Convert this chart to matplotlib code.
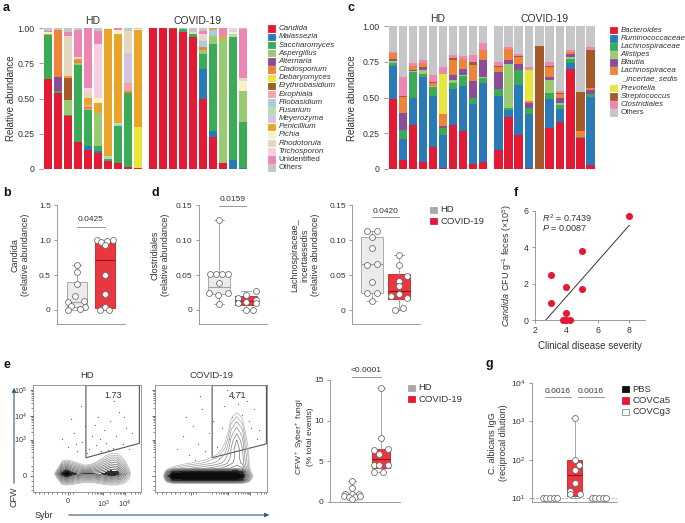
import numpy as np
import matplotlib
matplotlib.use("Agg")
import matplotlib.pyplot as plt
from matplotlib.patches import Rectangle, Polygon, FancyArrowPatch

plt.rcParams['font.family'] = ['Liberation Sans', 'DejaVu Sans']
plt.rcParams['mathtext.fontset'] = 'custom'
plt.rcParams['mathtext.rm'] = 'Liberation Sans'
plt.rcParams['mathtext.it'] = 'Liberation Sans:italic'
plt.rcParams['mathtext.bf'] = 'Liberation Sans:bold'

W, H = 685, 523
TXT = '#333333'
AXC = '#8c8c8c'
RED = '#e41a35'

# ---------------- panel a: fungal composition (rows = taxa, cols = samples)
fungi_names = ['Candida', 'Malassezia', 'Saccharomyces', 'Aspergillus', 'Alternaria',
               'Cladosporium', 'Debaryomyces', 'Erythrobasidium', 'Exophiala',
               'Filobasidium', 'Fusarium', 'Meyerozyma', 'Penicillium', 'Pichia',
               'Rhodotorula', 'Trichosporon', 'Unidentified', 'Others']
fungi_colors = ['#e41a35', '#2a7ab8', '#3cab57', '#9acb73', '#8a4d9a', '#f0833a',
                '#e6e63c', '#a55a2a', '#f1a6a0', '#a9cbe4', '#b7dcb5', '#d4c4df',
                '#e9a52a', '#f4f4c8', '#e5d6be', '#f6cfe0', '#ec86b3', '#c6c6c8']
fungi_hd = [
    [0.64, 0.54, 0.375, 0.195, 0.135, 0.115, 0.06, 0.045, 0.015, 0.005],
    [0, 0, 0, 0, 0.025, 0.01, 0, 0, 0, 0],
    [0.31, 0.015, 0.01, 0.54, 0.26, 0.04, 0.01, 0.26, 0.525, 0],
    [0, 0, 0.105, 0.015, 0.005, 0.235, 0, 0, 0, 0],
    [0, 0.095, 0, 0, 0, 0, 0, 0, 0, 0],
    [0, 0.335, 0, 0.02, 0.015, 0, 0, 0, 0.01, 0],
    [0, 0, 0, 0, 0, 0, 0, 0, 0, 0.29],
    [0, 0, 0.155, 0, 0, 0, 0, 0, 0, 0],
    [0, 0, 0, 0, 0.015, 0, 0, 0, 0.06, 0],
    [0, 0, 0, 0, 0, 0, 0, 0.01, 0, 0],
    [0, 0, 0, 0, 0, 0, 0.02, 0.01, 0, 0],
    [0, 0, 0, 0, 0, 0, 0, 0, 0.21, 0],
    [0.01, 0, 0.015, 0.01, 0.05, 0.07, 0.905, 0.63, 0, 0.69],
    [0.01, 0, 0, 0, 0, 0.035, 0.005, 0.03, 0, 0.005],
    [0.005, 0, 0.285, 0.015, 0.05, 0, 0, 0, 0.16, 0],
    [0, 0, 0, 0, 0.02, 0.38, 0, 0, 0, 0],
    [0.005, 0, 0.03, 0.19, 0.425, 0.095, 0, 0.015, 0, 0],
    [0.02, 0.015, 0.025, 0.015, 0, 0.02, 0, 0, 0.02, 0.01],
]
fungi_covid = [
    [1.0, 1.0, 0.99, 0.97, 0.935, 0.495, 0.225, 0.04, 0, 0],
    [0, 0, 0, 0, 0, 0.215, 0.045, 0.005, 0.065, 0.01],
    [0, 0, 0, 0.02, 0.025, 0.105, 0.615, 0, 0.87, 0.325],
    [0, 0, 0, 0, 0, 0.03, 0.055, 0.875, 0, 0.22],
    [0, 0, 0, 0, 0, 0, 0, 0, 0, 0],
    [0, 0, 0, 0, 0, 0.02, 0, 0, 0, 0],
    [0, 0, 0, 0, 0, 0, 0, 0, 0, 0],
    [0, 0, 0.01, 0, 0, 0, 0, 0, 0, 0],
    [0, 0, 0, 0, 0, 0, 0, 0, 0, 0],
    [0, 0, 0, 0, 0, 0.045, 0.045, 0, 0, 0],
    [0, 0, 0, 0, 0, 0, 0, 0, 0.025, 0],
    [0, 0, 0, 0, 0, 0, 0, 0, 0, 0],
    [0, 0, 0, 0, 0, 0, 0.015, 0.02, 0, 0],
    [0, 0, 0, 0, 0, 0, 0, 0, 0.015, 0.07],
    [0, 0, 0, 0, 0.015, 0.025, 0, 0, 0.01, 0.02],
    [0, 0, 0, 0, 0, 0.02, 0, 0, 0.015, 0],
    [0, 0, 0, 0, 0, 0.025, 0, 0.06, 0, 0.345],
    [0, 0, 0, 0.01, 0.025, 0.02, 0, 0, 0, 0.01],
]

# ---------------- panel c: bacterial composition
bact_names = ['Bacteroides', 'Ruminococcaceae', 'Lachnospiraceae', 'Alistipes', 'Blautia',
              'Lachnospiracea', 'Prevotella', 'Streptococcus', 'Clostridiales', 'Others']
bact_colors = ['#e41a35', '#2a7ab8', '#3cab57', '#9acb73', '#8a4d9a', '#f0833a',
               '#e6e63c', '#a55a2a', '#ec86b3', '#c6c6c8']
bact_hd = [
    [0.49, 0.065, 0.305, 0.05, 0.155, 0.005, 0.305, 0.265, 0.035, 0.05],
    [0.23, 0.145, 0.195, 0.595, 0.355, 0.235, 0.255, 0.315, 0.42, 0.55],
    [0.02, 0.065, 0.175, 0.02, 0.06, 0.045, 0.04, 0.07, 0.04, 0.035],
    [0.015, 0, 0.01, 0.03, 0.01, 0, 0.02, 0.01, 0.005, 0.005],
    [0.015, 0.115, 0.01, 0.02, 0, 0.015, 0.04, 0.04, 0.115, 0.12],
    [0.04, 0.115, 0.025, 0.025, 0.02, 0.085, 0.105, 0.07, 0.115, 0.07],
    [0, 0, 0, 0, 0, 0.28, 0, 0, 0, 0],
    [0, 0.005, 0, 0, 0.005, 0, 0.01, 0, 0.015, 0],
    [0.01, 0.13, 0.02, 0.025, 0.05, 0.045, 0.025, 0.02, 0.05, 0.05],
    [0.18, 0.36, 0.26, 0.235, 0.345, 0.29, 0.2, 0.21, 0.205, 0.12],
]
bact_covid = [
    [0.135, 0.365, 0.24, 0.01, 0, 0.29, 0.33, 0.70, 0.215, 0.03],
    [0.375, 0.05, 0.345, 0.375, 0, 0.2, 0.09, 0.04, 0, 0.475],
    [0.05, 0.01, 0.11, 0.045, 0, 0.04, 0.025, 0.03, 0.01, 0.02],
    [0, 0.31, 0, 0, 0, 0.095, 0.015, 0.01, 0, 0],
    [0.12, 0.025, 0.04, 0.03, 0, 0.015, 0.04, 0.025, 0, 0.025],
    [0.035, 0.08, 0.05, 0.015, 0, 0.07, 0.025, 0.01, 0.04, 0.015],
    [0, 0, 0, 0.22, 0, 0, 0, 0, 0, 0],
    [0.005, 0, 0.005, 0, 0.86, 0.01, 0.005, 0.005, 0.27, 0.265],
    [0.025, 0.01, 0.015, 0.02, 0, 0.025, 0.015, 0.01, 0, 0.02],
    [0.255, 0.15, 0.195, 0.285, 0.14, 0.255, 0.455, 0.17, 0.465, 0.15],
]

# ---------------- panel b / d box plots (stats = whislo, q1, med, q3, whishi)
candida_hd = [0.64, 0.54, 0.375, 0.195, 0.135, 0.115, 0.06, 0.045, 0.015, 0.005]
candida_hd_dx = [0, 0, 0, -0.05, 0.25, -0.3, -0.2, 0.3, 0.1, -0.3]
candida_cov = [1.0, 1.0, 0.99, 0.97, 0.935, 0.495, 0.225, 0.04, 0.0, 0.0]
candida_cov_dx = [-0.3, 0.27, 0.06, -0.14, 0.0, 0.0, 0.0, 0.0, -0.18, 0.12]
candida_hd_box = [0.0, 0.04, 0.12, 0.40, 0.64]
candida_cov_box = [0.0, 0.03, 0.71, 0.97, 1.0]

clos_hd = [0.129, 0.052, 0.052, 0.052, 0.051, 0.038, 0.025, 0.024, 0.022, 0.008]
clos_hd_dx = [0, -0.33, -0.1, 0.12, 0.35, 0.0, -0.38, 0.35, -0.05, 0.0]
clos_cov = [0.027, 0.021, 0.017, 0.014, 0.011, 0.010, 0.010, 0.0, 0.0]
clos_cov_dx = [0.37, 0.0, -0.28, 0.37, 0.0, -0.28, 0.37, 0.0, 0.25]
clos_hd_box = [0.008, 0.023, 0.033, 0.051, 0.129]
clos_cov_box = [0.0, 0.007, 0.013, 0.020, 0.027]

lis_hd = [0.113, 0.113, 0.104, 0.089, 0.065, 0.066, 0.040, 0.0245, 0.0245, 0.0127]
lis_hd_dx = [-0.2, 0.17, 0, 0, -0.2, 0.17, 0, -0.2, 0.17, 0]
lis_cov = [0.079, 0.064, 0.049, 0.041, 0.034, 0.020, 0.023, 0.017, 0.0, 0.003]
lis_cov_dx = [0, 0, 0.3, 0, 0, -0.3, 0, 0.3, -0.15, 0.16]
lis_hd_box = [0.0127, 0.024, 0.066, 0.104, 0.113]
lis_cov_box = [0.0, 0.016, 0.028, 0.051, 0.079]

# ---------------- panel f
severity = [3, 3, 4, 4, 3.75, 4, 4.25, 5, 5, 8]
cfu = [2.45, 0.95, 1.8, 0.4, 0, 0, 0, 3.8, 1.7, 5.7]

# ---------------- panel e (right) box plot
cfw_hd = [2.6, 1.75, 1.0, 1.0, 0.98, 0.7, 0.65, 0.65, 0.7, 0.33]
cfw_hd_dx = [0, 0, -0.23, 0, 0.23, -0.29, -0.11, 0.11, 0.29, 0]
cfw_cov = [14.0, 7.9, 6.5, 6.4, 5.9, 4.55, 4.55, 4.55, 3.7, 3.7]
cfw_cov_dx = [0, 0, 0.26, -0.25, -0.08, -0.25, -0.05, 0.26, -0.25, 0.07]
cfw_hd_box = [0.33, 0.45, 0.7, 1.0, 2.6]
cfw_cov_box = [3.7, 4.2, 5.3, 6.5, 14.0]

# ---------------- panel g
igg_pbs = [10, 10, 10, 10, 10]
igg_ca5 = [1260, 100, 74, 55, 25, 15, 13, 13]
igg_ca5_dx = [0, 0, 0.18, 0, 0, -0.2, -0.2, 0.23]
igg_cg3 = [10, 10, 10, 10, 10]
igg_side_dx = [-0.3, -0.15, 0, 0.15, 0.3]
igg_ca5_box = [10, 11.5, 40, 97, 1260]

# ---------------- panel e flow: log10 event density, read by eye (one list per x column, bottom->top)
hd_gx = [0.18, 0.23, 0.27, 0.31, 0.36, 0.42, 0.48, 0.54, 0.60, 0.66, 0.72, 0.78, 0.84, 0.89, 0.94]
hd_gy = [0.02, 0.065, 0.10, 0.135, 0.17, 0.205, 0.24, 0.28, 0.32, 0.36, 0.40, 0.45]
hd_logd_cols = [
    [-1, -1, -1, -0.8, -0.5, -0.8, -1, -1, -1, -1, -1, -1],
    [-1, -0.9, -0.3, 0.24, 0.8, 0.24, -0.3, -0.95, -1, -1, -1, -1],
    [-0.8, -0.08, 0.48, 1.04, 1.6, 1.13, 0.67, 0.13, -0.4, -0.93, -1, -1],
    [-0.86, 0, 0.67, 1.33, 2.0, 1.46, 0.92, 0.31, -0.31, -0.92, -1, -1],
    [-0.8, -0.08, 0.48, 1.04, 1.6, 1.13, 0.67, 0.13, -0.4, -0.93, -1, -1],
    [-0.93, -0.23, 0.31, 0.86, 1.4, 0.91, 0.42, -0.14, -0.7, -1, -1, -1],
    [-1, -0.42, 0.17, 0.76, 1.35, 0.76, 0.17, -0.5, -1, -1, -1, -1],
    [-1, -0.42, 0.17, 0.76, 1.35, 0.83, 0.3, -0.3, -0.9, -1, -1, -1],
    [-0.93, -0.23, 0.31, 0.86, 1.4, 0.99, 0.58, 0.12, -0.35, -0.82, -1, -1],
    [-0.75, -0.08, 0.45, 0.98, 1.5, 1.17, 0.84, 0.47, 0.09, -0.28, -0.66, -1],
    [-0.73, 0, 0.57, 1.13, 1.7, 1.39, 1.07, 0.72, 0.36, 0, -0.36, -0.8],
    [-0.69, 0, 0.53, 1.07, 1.6, 1.31, 1.01, 0.67, 0.34, 0, -0.34, -0.76],
    [-0.67, -0.17, 0.22, 0.61, 1.0, 0.75, 0.5, 0.21, -0.07, -0.36, -0.64, -1],
    [-1, -0.33, -0.12, 0.09, 0.3, 0.09, -0.12, -0.36, -0.6, -0.84, -1, -1],
    [-1, -1, -1, -1, -1, -1, -1, -1, -1, -1, -1, -1],
]
cov_gx = [0.06, 0.11, 0.16, 0.25, 0.35, 0.45, 0.55, 0.62, 0.68, 0.73, 0.78, 0.83, 0.87, 0.92]
cov_gy = [0.02, 0.08, 0.115, 0.15, 0.185, 0.22, 0.27, 0.33, 0.40, 0.48, 0.56, 0.64, 0.72, 0.80, 0.86]
cov_logd_cols = [
    [-1, -1, -0.8, -0.6, -0.8, -1, -1, -1, -1, -1, -1, -1, -1, -1, -1],
    [-1, -0.3, 0.8, 1.3, 0.8, -0.2, -1, -1, -1, -1, -1, -1, -1, -1, -1],
    [-1, 0, 1.6, 2.0, 1.6, 0.2, -0.4, -1, -1, -1, -1, -1, -1, -1, -1],
    [-1, 0, 1.7, 2.0, 1.7, 0.4, -0.1, -0.6, -1, -1, -1, -1, -1, -1, -1],
    [-1, 0, 1.7, 2.0, 1.7, 0.5, 0.05, -0.4, -0.9, -1, -1, -1, -1, -1, -1],
    [-1, 0, 1.7, 2.0, 1.7, 0.6, 0.2, -0.2, -0.7, -1, -1, -1, -1, -1, -1],
    [-1, 0, 1.7, 2.0, 1.7, 0.7, 0.35, 0.1, -0.3, -0.7, -1, -1, -1, -1, -1],
    [-1, 0, 1.7, 2.0, 1.7, 0.8, 0.5, 0.35, 0.15, -0.1, -0.4, -0.7, -1, -1, -1],
    [-1, 0, 1.7, 2.0, 1.7, 0.9, 0.7, 0.6, 0.6, 0.5, 0.35, 0.15, -0.1, -0.5, -1],
    [-1, 0, 1.7, 2.0, 1.7, 1.0, 0.8, 0.8, 0.85, 0.75, 0.55, 0.35, 0.1, -0.3, -0.8],
    [-1, 0, 1.5, 1.8, 1.5, 0.9, 0.7, 0.65, 0.6, 0.5, 0.35, 0.15, -0.1, -0.5, -1],
    [-1, -0.2, 0.6, 0.9, 0.6, 0.3, 0.2, 0.15, 0.05, -0.1, -0.3, -0.6, -1, -1, -1],
    [-1, -0.6, -0.2, 0.1, -0.2, -0.4, -0.5, -0.6, -0.7, -0.8, -1, -1, -1, -1, -1],
    [-1, -1, -1, -1, -1, -1, -1, -1, -1, -1, -1, -1, -1, -1, -1],
]
hd_dots_x = [0.32, 0.38, 0.41, 0.45, 0.48, 0.52, 0.55, 0.58, 0.60, 0.63, 0.66, 0.68, 0.71, 0.74, 0.77,
             0.80, 0.83, 0.86, 0.89, 0.35, 0.44, 0.50, 0.57, 0.62, 0.69, 0.75, 0.84, 0.92, 0.27, 0.40]
hd_dots_y = [0.42, 0.55, 0.38, 0.47, 0.62, 0.40, 0.52, 0.44, 0.70, 0.38, 0.58, 0.46, 0.66, 0.41, 0.52,
             0.75, 0.45, 0.60, 0.40, 0.68, 0.80, 0.36, 0.63, 0.50, 0.39, 0.85, 0.70, 0.55, 0.50, 0.45]
cov_dots_x = [0.20, 0.25, 0.30, 0.34, 0.38, 0.42, 0.45, 0.48, 0.36, 0.28, 0.55, 0.60, 0.62, 0.66, 0.70,
              0.74, 0.78, 0.82, 0.86, 0.88, 0.91, 0.57, 0.64, 0.69, 0.76, 0.80, 0.84, 0.93, 0.52, 0.40]
cov_dots_y = [0.40, 0.52, 0.35, 0.62, 0.45, 0.78, 0.38, 0.55, 0.30, 0.70, 0.42, 0.60, 0.80, 0.50, 0.88,
              0.82, 0.72, 0.85, 0.60, 0.78, 0.50, 0.32, 0.95, 0.70, 0.93, 0.40, 0.66, 0.58, 0.66, 0.90]
hd_gate = [(0.49, 0.995), (0.49, 0.32), (0.985, 0.455), (0.985, 0.995)]
cov_gate = [(0.51, 0.995), (0.51, 0.32), (0.995, 0.45), (0.995, 0.995)]

fig = plt.figure(figsize=(W / 100, H / 100), dpi=100)


def px_axes(l, t, w, h):
    return fig.add_axes([l / W, 1 - (t + h) / H, w / W, h / H])


def ftext(x, y, s, **kw):
    kw.setdefault('color', TXT)
    return fig.text(x / W, 1 - y / H, s, **kw)


def legend_squares(x, ys, labels, colors, italic, size=6.5, fs=5.7, edges=None):
    for i, (y, lab, c) in enumerate(zip(ys, labels, colors)):
        if c is not None:
            ec = edges[i] if edges else c
            fig.add_artist(Rectangle((x / W, 1 - (y + size / 2) / H), size / W, size / H,
                                     transform=fig.transFigure, facecolor=c, edgecolor=ec, lw=0.6))
        ftext(x + size + 4, y, lab, va='center', ha='left', fontsize=fs,
              fontstyle='italic' if italic[i] else 'normal')


def stacked(ax, table, colors, show_y):
    xs = np.arange(len(table[0]))
    bottom = np.zeros(len(xs))
    for row, c in zip(table, colors):
        row = np.asarray(row, dtype=float)
        ax.bar(xs, row, bottom=bottom, width=0.86, color=c, linewidth=0)
        bottom += row
    ax.set_xlim(-0.5, len(xs) - 0.5)
    ax.set_ylim(0, 1)
    for s in ax.spines.values():
        s.set_visible(False)
    ax.set_xticks([])
    if show_y:
        ax.set_yticks([0, 0.25, 0.5, 0.75, 1.0], ['0', '0.25', '0.50', '0.75', '1.00'])
        ax.tick_params(axis='y', length=3, width=0.6, color=AXC, labelsize=6.3,
                       labelcolor=TXT, pad=3)
    else:
        ax.set_yticks([])


def box_axes(ax):
    for s in ['top', 'right']:
        ax.spines[s].set_visible(False)
    for s in ['left', 'bottom']:
        ax.spines[s].set_color(AXC)
        ax.spines[s].set_linewidth(0.6)
    ax.set_xticks([])
    ax.tick_params(axis='y', length=2.5, width=0.6, color=AXC, labelsize=6, labelcolor=TXT, pad=2)


def draw_box(ax, pos, st, width, red):
    face, edge, med = ('#e8373f', '#c72029', '#9b111a') if red else ('#ebebeb', '#a0a0a0', '#a0a0a0')
    ax.bxp([dict(whislo=st[0], q1=st[1], med=st[2], q3=st[3], whishi=st[4], fliers=[])],
           positions=[pos], widths=width, patch_artist=True, showfliers=False,
           manage_ticks=False, capwidths=width * 0.45,
           boxprops=dict(facecolor=face, edgecolor=edge, linewidth=0.6),
           medianprops=dict(color=med, linewidth=0.8),
           whiskerprops=dict(color='#999999', linewidth=0.6),
           capprops=dict(color='#999999', linewidth=0.6))


def dots(ax, pos, dx, vals, s=18):
    ax.scatter(pos + np.asarray(dx), vals, s=s, facecolor='white', edgecolor='#707070',
               linewidth=0.6, zorder=4, clip_on=False)


def sig(ax, x0, x1, y, ty, label, fs=6):
    ax.plot([x0, x1], [y, y], color='#888888', lw=0.6, clip_on=False)
    ax.text((x0 + x1) / 2, ty, label, ha='center', va='bottom', fontsize=fs, color=TXT, clip_on=False)


# ================= panel a
ax_a1 = px_axes(43, 28, 100, 141)
stacked(ax_a1, fungi_hd, fungi_colors, True)
ax_a2 = px_axes(148, 28, 100, 141)
stacked(ax_a2, fungi_covid, fungi_colors, False)
ax_a1.set_title('HD', fontsize=7.5, color=TXT, pad=3)
ax_a2.set_title('COVID-19', fontsize=7.5, color=TXT, pad=3)
ftext(11, 98, 'Relative abundance', rotation=90, ha='center', va='center', fontsize=7)
ys_a = list(np.linspace(28.7, 167.7, len(fungi_names)))
legend_squares(268, ys_a, fungi_names, fungi_colors,
               [n not in ('Unidentified', 'Others') for n in fungi_names])

# ================= panel c
ax_c1 = px_axes(388, 26, 100, 143)
stacked(ax_c1, bact_hd, bact_colors, True)
ax_c2 = px_axes(493, 26, 103, 143)
stacked(ax_c2, bact_covid, bact_colors, False)
ax_c1.set_title('HD', fontsize=7.5, color=TXT, pad=3)
ax_c2.set_title('COVID-19', fontsize=7.5, color=TXT, pad=3)
ftext(352, 98, 'Relative abundance', rotation=90, ha='center', va='center', fontsize=7)
ys_c = [30, 38.3, 46.3, 54.3, 62.3, 70.7, 88, 96.3, 104.7, 112.7]
legend_squares(610, ys_c, bact_names, bact_colors, [n != 'Others' for n in bact_names])
legend_squares(612, [79], ['_incertae_sedis'], [None], [True])

# ================= panel b
ax_b = px_axes(57, 205, 68, 119)
box_axes(ax_b)
ax_b.set_xlim(-0.7, 1.7)
ax_b.set_ylim(-0.2, 1.5)
ax_b.set_yticks([0, 0.5, 1.0, 1.5], ['0', '0.5', '1.0', '1.5'])
draw_box(ax_b, 0, candida_hd_box, 0.7, False)
draw_box(ax_b, 1, candida_cov_box, 0.7, True)
dots(ax_b, 0, candida_hd_dx, candida_hd)
dots(ax_b, 1, candida_cov_dx, candida_cov)
sig(ax_b, 0, 1, 1.19, 1.24, '0.0425')
ftext(20, 255, 'Candida\n(relative abundance)', rotation=90, ha='center', va='center', fontsize=6.5)

# ================= panel d (left)
ax_d1 = px_axes(199, 205, 68, 119)
box_axes(ax_d1)
ax_d1.set_xlim(-0.74, 1.78)
ax_d1.set_ylim(-0.02, 0.15)
ax_d1.set_yticks([0, 0.05, 0.10, 0.15], ['0', '0.05', '0.10', '0.15'])
draw_box(ax_d1, 0, clos_hd_box, 0.8, False)
draw_box(ax_d1, 1, clos_cov_box, 0.8, True)
dots(ax_d1, 0, clos_hd_dx, clos_hd)
dots(ax_d1, 1, clos_cov_dx, clos_cov)
sig(ax_d1, 0, 1, 0.149, 0.153, '0.0159')
ftext(160, 255, 'Clostridiales\n(relative abundance)', rotation=90, ha='center', va='center', fontsize=6.5)

# ================= panel d (right)
ax_d2 = px_axes(352, 205, 68, 119)
box_axes(ax_d2)
ax_d2.set_xlim(-0.74, 1.78)
ax_d2.set_ylim(-0.0197, 0.15)
ax_d2.set_yticks([0, 0.05, 0.10, 0.15], ['0', '0.05', '0.10', '0.15'])
draw_box(ax_d2, 0, lis_hd_box, 0.8, False)
draw_box(ax_d2, 1, lis_cov_box, 0.8, True)
dots(ax_d2, 0, lis_hd_dx, lis_hd)
dots(ax_d2, 1, lis_cov_dx, lis_cov)
sig(ax_d2, 0, 1, 0.133, 0.136, '0.0420')
ftext(305, 255, 'Lachnospiraceae_\nincertaesedis\n(relative abundance)', rotation=90,
      ha='center', va='center', fontsize=6.5)
legend_squares(430, [210, 221], ['HD', 'COVID-19'], ['#a8a8a8', RED], [False, False], fs=6.8)

# ================= panel f
ax_f = px_axes(535, 211, 110, 109)
for s in ['top', 'right']:
    ax_f.spines[s].set_visible(False)
for s in ['left', 'bottom']:
    ax_f.spines[s].set_color(AXC)
    ax_f.spines[s].set_linewidth(0.6)
ax_f.set_xlim(2, 9)
ax_f.set_ylim(0, 6)
ax_f.set_xticks([2, 4, 6, 8])
ax_f.set_yticks([0, 2, 4, 6])
ax_f.tick_params(length=2.5, width=0.6, color=AXC, labelsize=6.3, labelcolor=TXT, pad=2)
ax_f.scatter(severity, cfu, s=26, color=RED, zorder=3, clip_on=False, linewidths=0)
slope, icpt = np.polyfit(severity, cfu, 1)
x0 = -icpt / slope
ax_f.plot([x0, 8], [0, slope * 8 + icpt], color='#333333', lw=0.7)
ax_f.text(2.45, 5.6, r'$R^2$ = 0.7439', fontsize=6.5, color=TXT, va='center')
ax_f.text(2.45, 5.05, r'$P$ = 0.0087', fontsize=6.5, color=TXT, va='center')
ax_f.set_xlabel('Clinical disease severity', fontsize=7, color=TXT, labelpad=4)
ftext(507, 266, r'$Candida$ CFU g$^{-1}$ feces (×10$^5$)', rotation=90, ha='center',
      va='center', fontsize=6.5)

# ================= panel e (flow)
levels = np.linspace(0.0, 1.9, 14)
lcols = plt.cm.Greys(np.linspace(0.4, 1.0, len(levels)))


def flow(ax, gx, gy, logd_cols, dxs, dys, gate, num, labels):
    logd = np.asarray(logd_cols, dtype=float).T
    ax.contourf(gx, gy, logd, levels=[1.45, 1.75, 3], colors=['#3a3a3a', '#111111'])
    ax.contour(gx, gy, logd, levels=levels, colors=lcols, linewidths=0.5)
    ax.scatter(dxs, dys, s=0.8, color='#666666', linewidths=0)
    ax.add_patch(Polygon(gate, closed=True, fill=False, edgecolor='#555555', lw=0.8))
    ax.text(0.74, 0.9, num, ha='center', va='center', fontsize=6.5, color=TXT)
    ax.set_xlim(0, 1)
    ax.set_ylim(0, 1)
    for s in ax.spines.values():
        s.set_color('#8a8a8a')
        s.set_linewidth(0.6)
    ax.set_yticks([0.15, 0.49, 0.71, 0.95])
    ax.set_xticks([0.32, 0.65, 0.85])
    yminor = [b + 0.23 * np.log10(k) for b in (0.26, 0.49, 0.72) for k in range(2, 10)]
    xminor = [b + 0.2 * np.log10(k) for b in (0.45, 0.65, 0.85) for k in range(2, 10) if b + 0.2 * np.log10(k) < 1]
    ax.set_yticks(yminor + [0.02, 0.06, 0.1, 0.2, 0.24], minor=True)
    ax.set_xticks(xminor + [0.02, 0.06, 0.1, 0.14, 0.18, 0.22, 0.27, 0.3, 0.34, 0.37], minor=True)
    ax.tick_params(which='major', length=2.5, width=0.6, color='#555555', labelsize=5.2,
                   labelcolor=TXT, pad=2)
    ax.tick_params(which='minor', length=1.3, width=0.5, color='#555555')
    if labels:
        ax.set_yticklabels(['0', '10$^3$', '10$^4$', '10$^5$'])
        ax.set_xticklabels(['0', '10$^3$', '10$^4$'])
    else:
        ax.set_yticklabels([])
        ax.set_xticklabels([])


ax_e1 = px_axes(33, 385, 108, 107)
flow(ax_e1, hd_gx, hd_gy, hd_logd_cols, hd_dots_x, hd_dots_y, hd_gate, '1.73', True)
ax_e2 = px_axes(155, 385, 112, 107)
flow(ax_e2, cov_gx, cov_gy, cov_logd_cols, cov_dots_x, cov_dots_y, cov_gate, '4.71', False)
ax_e1.set_title('HD', fontsize=6.8, color=TXT, pad=5)
ax_e2.set_title('COVID-19', fontsize=6.8, color=TXT, pad=5)
arrow_c = '#3d5a78'
fig.add_artist(FancyArrowPatch((14 / W, 1 - 486 / H), (14 / W, 1 - 385 / H), transform=fig.transFigure,
                               arrowstyle='-|>', mutation_scale=6, lw=0.8, color=arrow_c))
ftext(14, 497, 'CFW', rotation=90, ha='center', va='center', fontsize=6.5)
fig.add_artist(FancyArrowPatch((66 / W, 1 - 515 / H), (272 / W, 1 - 515 / H), transform=fig.transFigure,
                               arrowstyle='-|>', mutation_scale=6, lw=0.8, color=arrow_c))
ftext(35, 515, 'Sybr', ha='left', va='center', fontsize=6.5)

# ================= panel e (right box)
ax_e3 = px_axes(330, 380, 70, 122)
box_axes(ax_e3)
ax_e3.set_xlim(-0.76, 1.66)
ax_e3.set_ylim(0, 15)
ax_e3.set_yticks([0, 5, 10, 15])
draw_box(ax_e3, 0, cfw_hd_box, 0.6, False)
draw_box(ax_e3, 1, cfw_cov_box, 0.6, True)
dots(ax_e3, 0, cfw_hd_dx, cfw_hd)
dots(ax_e3, 1, cfw_cov_dx, cfw_cov)
sig(ax_e3, 0, 1, 15.4, 15.7, '<0.0001')
ftext(304, 437, 'CFW$^+$ Syber$^+$ fungi\n(% total events)', rotation=90, ha='center',
      va='center', fontsize=6)
legend_squares(408, [388, 399], ['HD', 'COVID-19'], ['#a8a8a8', RED], [False, False], fs=6.8)

# ================= panel g
ax_g = px_axes(532, 383, 85, 119)
box_axes(ax_g)
ax_g.set_yscale('log')
ax_g.set_xlim(-0.73, 2.73)
ax_g.set_ylim(10 ** 0.9, 1e4)
ax_g.set_yticks([10, 100, 1000, 10000], ['10$^1$', '10$^2$', '10$^3$', '10$^4$'])
ax_g.minorticks_off()
ax_g.axhline(10, color='#aaaaaa', lw=0.6, ls=(0, (3, 2)), zorder=1)
draw_box(ax_g, 1, igg_ca5_box, 0.65, True)
dots(ax_g, 0, igg_side_dx, igg_pbs)
dots(ax_g, 1, igg_ca5_dx, igg_ca5)
dots(ax_g, 2, igg_side_dx, igg_cg3)
sig(ax_g, -0.2, 0.85, 4270, 4800, '0.0016')
sig(ax_g, 1.15, 2.2, 4270, 4800, '0.0016')
ftext(498, 443, 'C. albicans IgG\n(reciprocal dilution)', rotation=90, ha='center',
      va='center', fontsize=6.5)
legend_squares(622, [389, 400.5, 412], ['PBS', 'COVCa5', 'COVCg3'], ['#111111', RED, 'white'],
               [False, False, False], fs=6.8, edges=['#111111', RED, '#888888'])

# ================= panel letters
for lab, x, y in [('a', 3, 8), ('b', 3, 193), ('c', 347, 8), ('d', 151, 193),
                  ('e', 3, 365), ('f', 514, 193), ('g', 486, 364)]:
    ftext(x, y, lab, fontsize=9, fontweight='bold', color='#111111', ha='left', va='center')

fig.savefig('out.png', dpi=100)
